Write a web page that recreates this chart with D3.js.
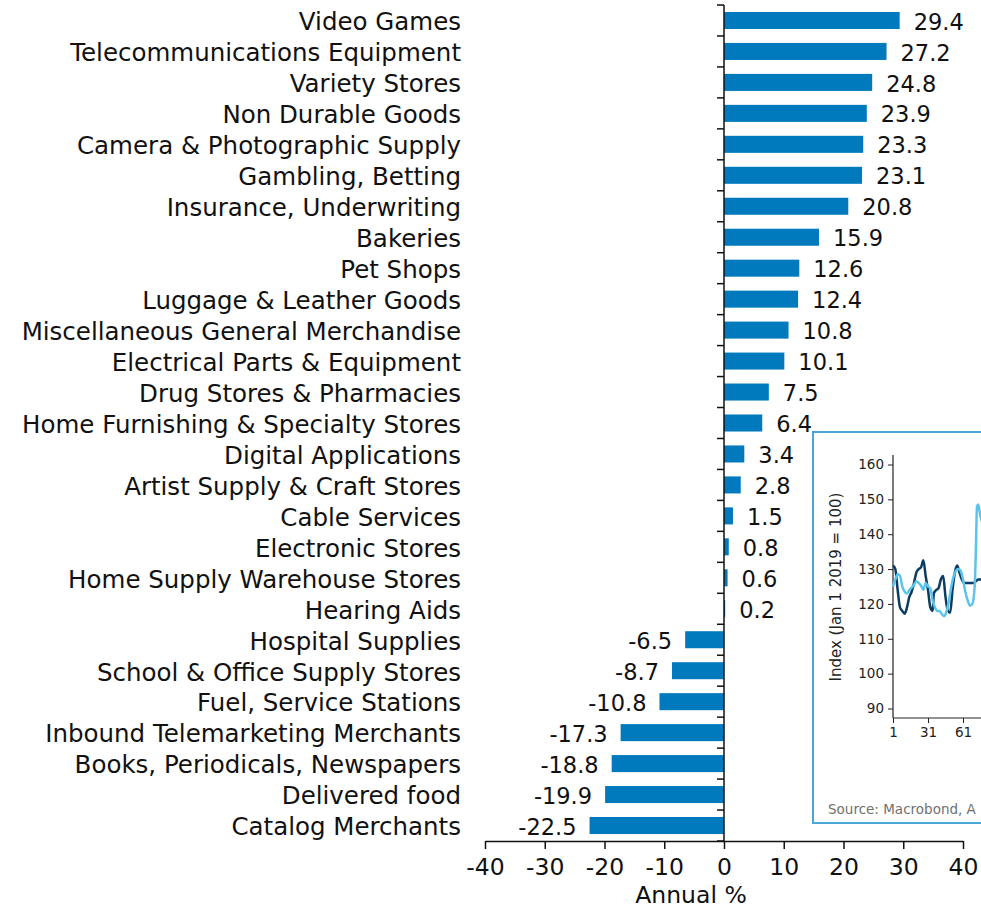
<!DOCTYPE html>
<html lang="en">
<head>
<meta charset="UTF-8">
<title>Annual % by merchant category</title>
<script src="https://cdn.jsdelivr.net/npm/d3@7"></script>
<style>
  body { margin: 0; background: #ffffff; }
  svg text { font-family: "DejaVu Sans", Verdana, sans-serif; }
</style>
</head>
<body>
<div id="chart"></div>
<script>

// categories and annual % change
var categories = ["Video Games", "Telecommunications Equipment", "Variety Stores", "Non Durable Goods",
  "Camera & Photographic Supply", "Gambling, Betting", "Insurance, Underwriting", "Bakeries", "Pet Shops",
  "Luggage & Leather Goods", "Miscellaneous General Merchandise", "Electrical Parts & Equipment",
  "Drug Stores & Pharmacies", "Home Furnishing & Specialty Stores", "Digital Applications",
  "Artist Supply & Craft Stores", "Cable Services", "Electronic Stores", "Home Supply Warehouse Stores",
  "Hearing Aids", "Hospital Supplies", "School & Office Supply Stores", "Fuel, Service Stations",
  "Inbound Telemarketing Merchants", "Books, Periodicals, Newspapers", "Delivered food", "Catalog Merchants"];
var values = [29.4, 27.2, 24.8, 23.9, 23.3, 23.1, 20.8, 15.9, 12.6, 12.4, 10.8, 10.1, 7.5, 6.4, 3.4, 2.8,
  1.5, 0.8, 0.6, 0.2, -6.5, -8.7, -10.8, -17.3, -18.8, -19.9, -22.5];
var xTicks = [-40, -30, -20, -10, 0, 10, 20, 30, 40];

// inset: index (Jan 1 2019 = 100), by day
var darkDays = [1, 3, 5, 7, 9, 11, 13, 15, 17, 19, 21, 23, 25, 27, 29, 31, 33, 35, 36, 38, 40, 42, 44, 46,
  48, 50, 52, 54, 56, 58, 60, 62, 64, 66, 68, 70, 72, 74, 76, 80];
var darkIndex = [131, 130, 124, 119, 118, 117.2, 119, 122, 123.5, 126, 129, 130, 130.5, 132.5, 128, 124,
  119, 118, 123, 124, 124.5, 127, 128, 122, 118, 117.5, 124, 129, 131, 129, 127, 126, 126, 126, 126, 126,
  126.5, 127, 127, 127];
var lightDays = [1, 3, 5, 7, 9, 11, 13, 15, 17, 19, 21, 23, 25, 27, 29, 31, 33, 35, 37, 39, 41, 43, 45, 47,
  49, 51, 53, 55, 57, 59, 61, 63, 65, 67, 69, 71, 72, 73, 74, 76, 80];
var lightIndex = [125, 127, 128.5, 128, 125, 123.5, 123, 124, 124.7, 125.5, 126.5, 126, 125.3, 124, 126,
  125, 124.5, 121, 119, 118, 118, 117, 116.5, 118, 121, 125, 128, 129.5, 130, 129.5, 127, 123.5, 121,
  119.5, 120, 125, 135, 148, 148.5, 145, 142];
var insetYTicks = [90, 100, 110, 120, 130, 140, 150, 160];
var insetXTicks = [1, 31, 61];

var W = 981, H = 909;
var svg = d3.select("#chart").append("svg")
    .attr("width", W)
    .attr("height", H);

// main scales
var x = d3.scaleLinear().domain([-40, 40]).range([485, 963]);
var y = d3.scaleBand().domain(categories).range([5, 841]).paddingInner(0.45).paddingOuter(0.225);

// bars
svg.append("g").selectAll("rect")
  .data(values)
  .enter().append("rect")
    .attr("x", function(d) { return x(Math.min(0, d)); })
    .attr("y", function(d, i) { return y(categories[i]); })
    .attr("width", function(d) { return Math.abs(x(d) - x(0)); })
    .attr("height", y.bandwidth())
    .attr("fill", "#007abd");

// value labels
svg.append("g").selectAll("text")
  .data(values)
  .enter().append("text")
    .attr("x", function(d) { return d >= 0 ? x(d) + 14 : x(d) - 13; })
    .attr("y", function(d, i) { return y(categories[i]) + y.bandwidth() / 2 + 1; })
    .attr("dy", "0.36em")
    .attr("text-anchor", function(d) { return d >= 0 ? "start" : "end"; })
    .style("font-size", "22.5px")
    .style("fill", "#111")
    .text(function(d) { return d.toFixed(1); });

// category labels
svg.append("g").selectAll("text")
  .data(categories)
  .enter().append("text")
    .attr("x", 461)
    .attr("y", function(d) { return y(d) + y.bandwidth() / 2 + 1; })
    .attr("dy", "0.36em")
    .attr("text-anchor", "end")
    .style("font-size", "24.5px")
    .style("fill", "#111")
    .text(function(d) { return d; });

// x axis
var xAxis = svg.append("g")
  .attr("transform", "translate(0,841)")
  .call(d3.axisBottom(x).tickValues(xTicks).tickSizeInner(8).tickSizeOuter(0).tickPadding(9));
xAxis.selectAll("text").style("font-size", "23.5px").style("fill", "#111")
  .text(function(d) { return d; });
xAxis.selectAll("path, line").attr("stroke", "#111").attr("stroke-width", 1.5);

svg.append("text")
  .attr("x", 691).attr("y", 903)
  .attr("text-anchor", "middle")
  .style("font-size", "23.5px")
  .style("fill", "#111")
  .text("Annual %");

// y axis with ticks at band boundaries
var bounds = d3.range(categories.length + 1).map(function(i) { return 5 + i * y.step(); });
svg.append("line")
  .attr("x1", x(0)).attr("x2", x(0))
  .attr("y1", 5).attr("y2", 841)
  .attr("stroke", "#111").attr("stroke-width", 1.5);
svg.append("g").selectAll("line")
  .data(bounds)
  .enter().append("line")
    .attr("x1", x(0) - 7).attr("x2", x(0))
    .attr("y1", function(d) { return d; }).attr("y2", function(d) { return d; })
    .attr("stroke", "#111").attr("stroke-width", 1.5);

// ---- inset chart ----
var inset = svg.append("g");
inset.append("rect")
  .attr("x", 813).attr("y", 432)
  .attr("width", 400).attr("height", 391)
  .attr("fill", "#fff")
  .attr("stroke", "#4ba6d6")
  .attr("stroke-width", 2);

var xi = d3.scaleLinear().domain([1, 61]).range([893, 963]);
var yi = d3.scaleLinear().domain([90, 160]).range([708.5, 464.5]);

var yAxisI = inset.append("g")
  .attr("transform", "translate(893,0)")
  .call(d3.axisLeft(yi).tickValues(insetYTicks).tickSize(5).tickPadding(4));
yAxisI.select(".domain").remove();
yAxisI.selectAll("text").style("font-size", "13.5px").style("fill", "#222");
yAxisI.selectAll("line").attr("stroke", "#222");

var xAxisI = inset.append("g")
  .attr("transform", "translate(0,718)")
  .call(d3.axisBottom(xi).tickValues(insetXTicks).tickSize(5).tickPadding(4));
xAxisI.select(".domain").remove();
xAxisI.selectAll("text").style("font-size", "13.5px").style("fill", "#222");
xAxisI.selectAll("line").attr("stroke", "#222");

inset.append("line")
  .attr("x1", 893).attr("x2", 893).attr("y1", 455).attr("y2", 718)
  .attr("stroke", "#222").attr("stroke-width", 1.2);
inset.append("line")
  .attr("x1", 893).attr("x2", 1100).attr("y1", 718).attr("y2", 718)
  .attr("stroke", "#222").attr("stroke-width", 1.2);

inset.append("text")
  .attr("transform", "translate(841,587) rotate(-90)")
  .attr("text-anchor", "middle")
  .style("font-size", "15px")
  .style("fill", "#222")
  .text("Index (Jan 1 2019 = 100)");

inset.append("text")
  .attr("x", 828).attr("y", 814)
  .style("font-size", "13.5px")
  .style("fill", "#707070")
  .text("Source: Macrobond, A");

var lineI = d3.line()
  .x(function(d) { return xi(d[0]); })
  .y(function(d) { return yi(d[1]); })
  .curve(d3.curveMonotoneX);

inset.append("path")
  .datum(d3.zip(darkDays, darkIndex))
  .attr("fill", "none")
  .attr("stroke", "#0b3c63")
  .attr("stroke-width", 2.5)
  .attr("d", lineI);
inset.append("path")
  .datum(d3.zip(lightDays, lightIndex))
  .attr("fill", "none")
  .attr("stroke", "#5cc3ea")
  .attr("stroke-width", 2.5)
  .attr("d", lineI);

</script>
</body>
</html>
